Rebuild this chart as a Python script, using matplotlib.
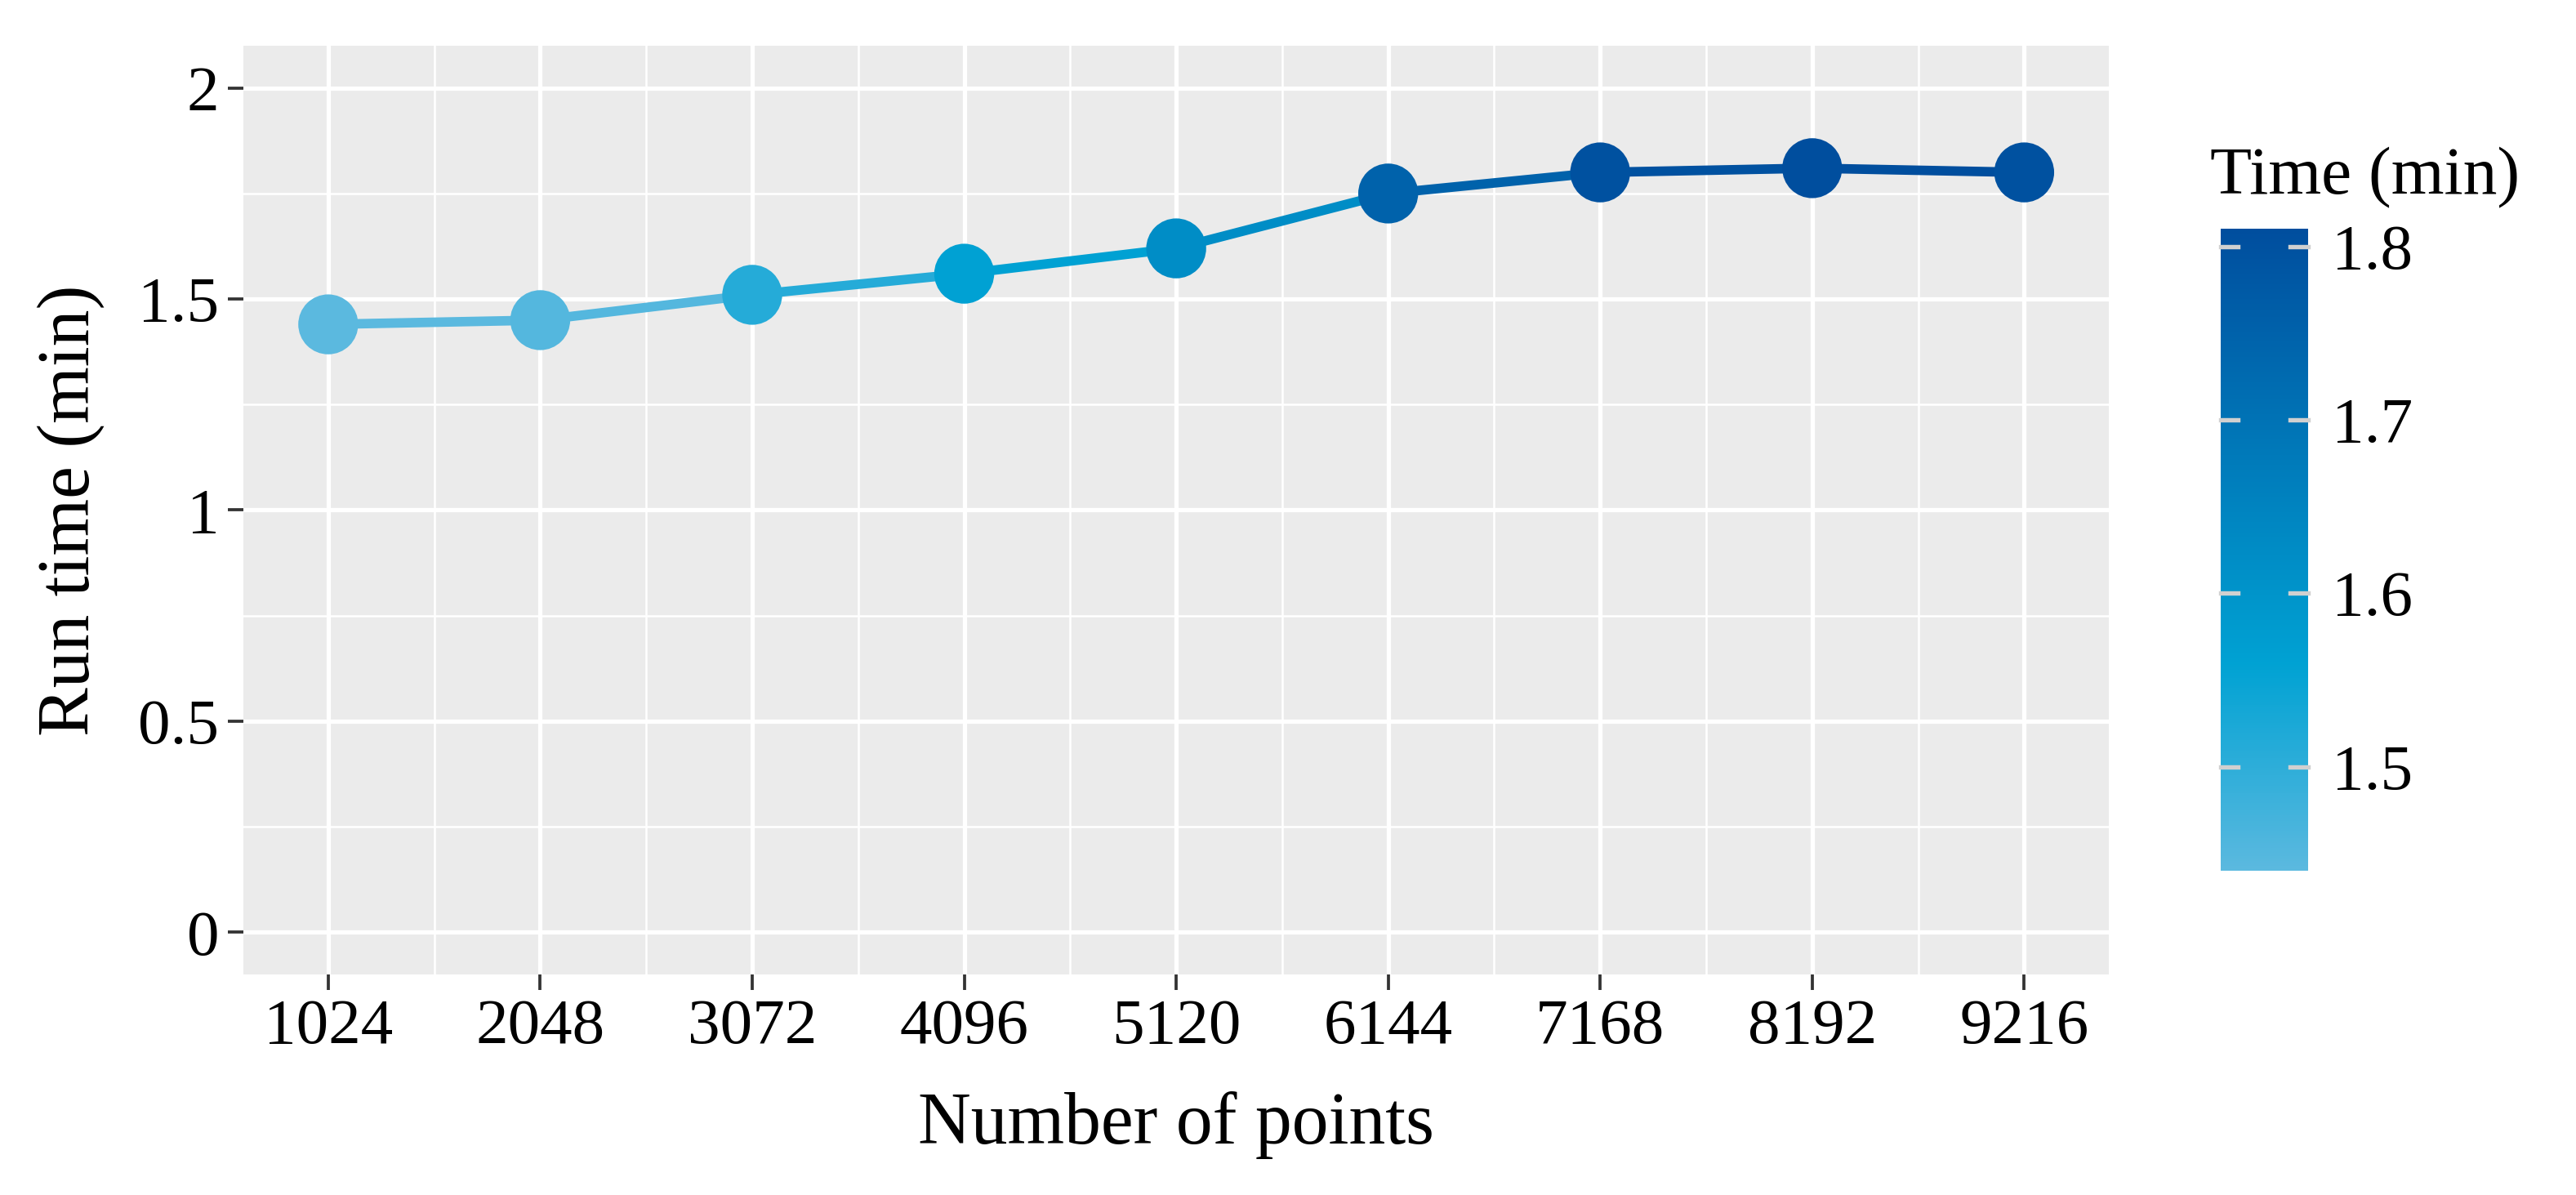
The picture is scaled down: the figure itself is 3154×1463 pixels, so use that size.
import numpy as np
import matplotlib
matplotlib.use("Agg")
import matplotlib.pyplot as plt
from matplotlib.collections import LineCollection
from matplotlib.colors import LinearSegmentedColormap, Normalize
from matplotlib.ticker import MultipleLocator

# ---- data ----
points = [1024, 2048, 3072, 4096, 5120, 6144, 7168, 8192, 9216]
run_time = [1.44, 1.45, 1.51, 1.56, 1.62, 1.75, 1.80, 1.81, 1.80]
y_ticks = [0, 0.5, 1, 1.5, 2]
y_tick_labels = ["0", "0.5", "1", "1.5", "2"]
cbar_ticks = [1.5, 1.6, 1.7, 1.8]

plt.rcParams['font.family'] = ['Liberation Serif', 'DejaVu Serif']

cmap = LinearSegmentedColormap.from_list(
    "blues", [(0.0, "#5BB9DF"), (0.32, "#00A2D3"), (1.0, "#004E9E")])
norm = Normalize(vmin=min(run_time), vmax=max(run_time))

fig = plt.figure(figsize=(3154 / 300, 1463 / 300), dpi=300)
ax = fig.add_axes([0.0945, 0.1846, 0.7242, 0.7771])
ax.set_facecolor("#EBEBEB")

x = np.array(points, dtype=float)
y = np.array(run_time, dtype=float)
segs = np.stack([np.column_stack([x[:-1], y[:-1]]),
                 np.column_stack([x[1:], y[1:]])], axis=1)
lc = LineCollection(segs, colors=cmap(norm(y[:-1])), linewidths=2.8,
                    capstyle="round", zorder=3)
ax.add_collection(lc)
sc = ax.scatter(x, y, c=y, cmap=cmap, norm=norm, s=310, linewidths=0,
                zorder=4)

span = x.max() - x.min()
ax.set_xlim(x.min() - 0.05 * span, x.max() + 0.05 * span)
ax.set_ylim(-0.1, 2.1)
ax.set_xticks(points)
ax.set_xticklabels([str(p) for p in points])
ax.xaxis.set_minor_locator(MultipleLocator(512))
ax.set_yticks(y_ticks)
ax.set_yticklabels(y_tick_labels)
ax.yaxis.set_minor_locator(MultipleLocator(0.25))

ax.grid(which="major", color="white", linewidth=1.25)
ax.grid(which="minor", color="white", linewidth=0.6)
ax.set_axisbelow(True)
for s in ax.spines.values():
    s.set_visible(False)
ax.tick_params(which="major", length=4.6, width=0.9, color="#333333",
               labelsize=19, pad=2.5, labelcolor="black")
ax.tick_params(which="minor", length=0)

ax.set_xlabel("Number of points", fontsize=21.5, labelpad=10)
ax.set_ylabel("Run time (min)", fontsize=21.5, labelpad=10)

# colorbar
cax = fig.add_axes([0.862, 0.2714, 0.0339, 0.537])
cb = fig.colorbar(sc, cax=cax)
cb.outline.set_visible(False)
cb.set_ticks(cbar_ticks)
cb.set_ticklabels([f"{t:.1f}" for t in cbar_ticks])
cax.tick_params(length=0, labelsize=19, pad=7)
for t in cbar_ticks:
    cax.plot([0, 0.2], [t, t], color="#D0D0D0", lw=1.3,
             transform=cax.get_yaxis_transform(), clip_on=False)
    cax.plot([0.8, 1.0], [t, t], color="#D0D0D0", lw=1.3,
             transform=cax.get_yaxis_transform(), clip_on=False)
fig.text(0.858, 0.838, "Time (min)", fontsize=20, ha="left", va="baseline")

fig.savefig("out.png", dpi=300, facecolor="white")
